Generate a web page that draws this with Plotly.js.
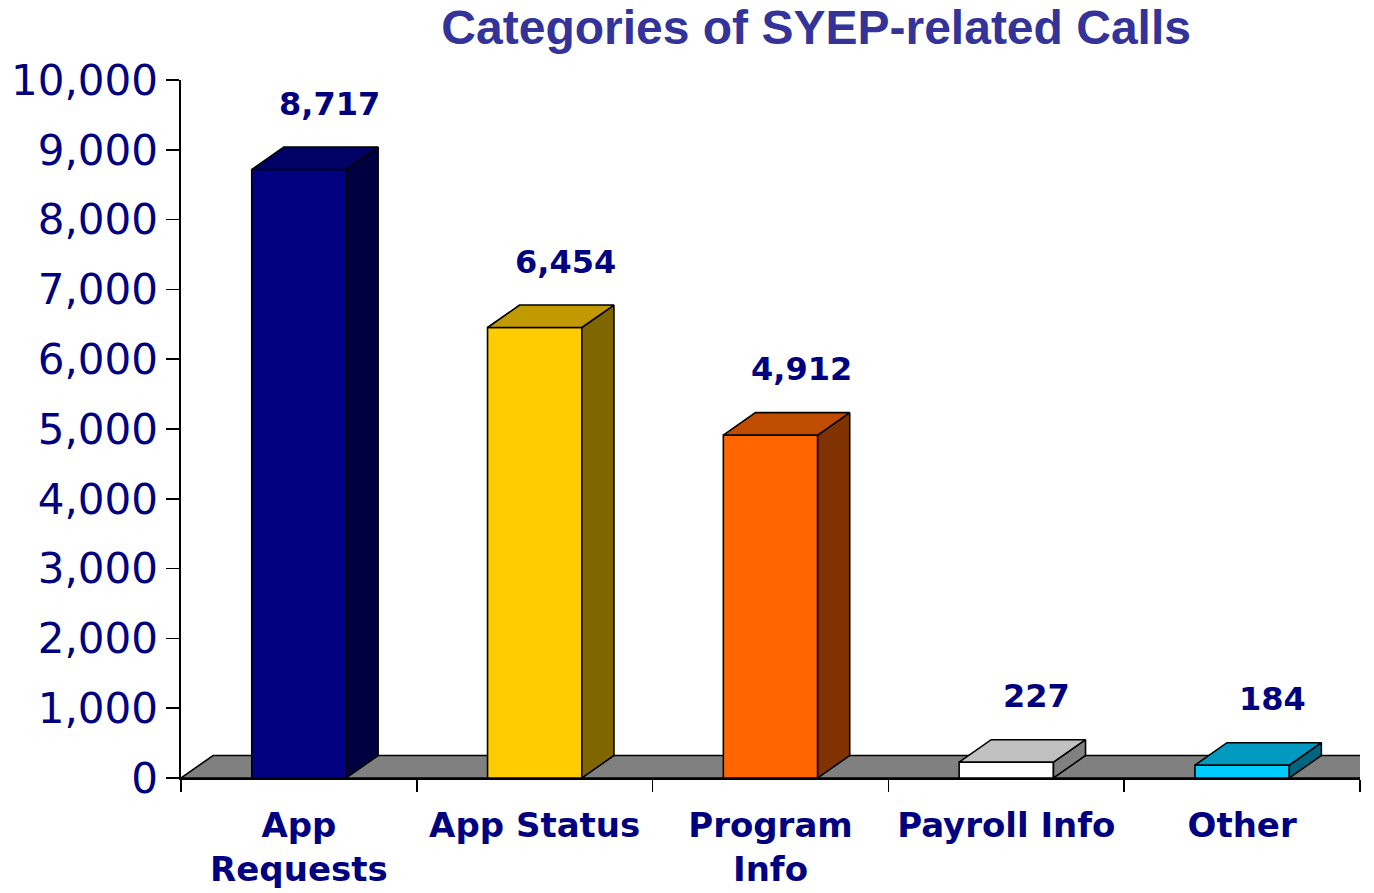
<!DOCTYPE html>
<html>
<head>
<meta charset="utf-8">
<script src="https://cdn.plot.ly/plotly-3.0.1.min.js"></script>
<style>
  html, body { margin: 0; padding: 0; background: #ffffff; }
  #chart { width: 1374px; height: 893px; }
</style>
</head>
<body>
<div id="chart"></div>
<script>
// ---- data ----
const categories = ['App<br>Requests', 'App Status', 'Program<br>Info', 'Payroll Info', 'Other'];
const values = [8717, 6454, 4912, 227, 184];
const yTickValues = [0, 1000, 2000, 3000, 4000, 5000, 6000, 7000, 8000, 9000, 10000];

// ---- styles ----
const frontColors = ['#000080', '#FFCC00', '#FF6600', '#FFFFFF', '#00CCFF'];
const topColors   = ['#000066', '#C09A00', '#BF4C00', '#C0C0C0', '#0099BF'];
const sideColors  = ['#000040', '#806600', '#803300', '#808080', '#006680'];
const textColor = '#000080';
const halfW = 0.2;      // half of bar width, category units
const depthX = 0.136;   // 3D depth offset along x (category units)
const depthY = 322;     // 3D depth offset along y (value units)

const idx = categories.map((_, i) => i);
const n = categories.length;
const traces = [];

// front faces as real bars
traces.push({
  type: 'bar',
  x: idx,
  y: values,
  width: 2 * halfW,
  marker: { color: frontColors, line: { color: '#000000', width: 1.6 } },
  hoverinfo: 'skip',
  showlegend: false
});

// side and top faces computed from the values
values.forEach((v, i) => {
  const xl = i - halfW, xr = i + halfW;
  traces.push({
    type: 'scatter', mode: 'lines', fill: 'toself',
    x: [xr, xr + depthX, xr + depthX, xr, xr],
    y: [0, depthY, v + depthY, v, 0],
    fillcolor: sideColors[i],
    line: { color: '#000000', width: 1.6 },
    hoverinfo: 'skip', showlegend: false
  });
  traces.push({
    type: 'scatter', mode: 'lines', fill: 'toself',
    x: [xl, xr, xr + depthX, xl + depthX, xl],
    y: [v, v, v + depthY, v + depthY, v],
    fillcolor: topColors[i],
    line: { color: '#000000', width: 1.6 },
    hoverinfo: 'skip', showlegend: false
  });
});

// tick-mark carrier on overlay axis (category boundaries)
const boundaries = [];
for (let k = 0; k <= n; k++) boundaries.push(k - 0.5);
traces.push({
  type: 'scatter', mode: 'markers', x: [boundaries[0]], y: [0],
  xaxis: 'x2', marker: { opacity: 0 }, hoverinfo: 'skip', showlegend: false
});

const annotations = values.map((v, i) => ({
  x: i + 0.13, y: v, xref: 'x', yref: 'y',
  text: v.toLocaleString('en-US'),
  showarrow: false, yshift: 66,
  xanchor: 'center', yanchor: 'middle',
  font: { family: 'DejaVu Sans, Arial, sans-serif', size: 32, color: textColor, weight: 'bold' }
}));

const floorPath = 'M ' + (-0.5) + ',0 L ' + (n - 0.5) + ',0 L ' + (n - 0.5 + depthX) + ',' + depthY +
  ' L ' + (-0.5 + depthX) + ',' + depthY + ' Z';

const layout = {
  width: 1374, height: 893,
  margin: { l: 181, r: 14, t: 80, b: 115 },
  paper_bgcolor: '#ffffff', plot_bgcolor: '#ffffff',
  showlegend: false,
  hovermode: false,
  title: {
    text: 'Categories of SYEP-related Calls',
    x: 0.594, xref: 'container', xanchor: 'center',
    y: 0.969, yref: 'container', yanchor: 'middle',
    font: { family: 'Liberation Sans, Arial, sans-serif', size: 48, color: '#333399', weight: 'bold' }
  },
  xaxis: {
    range: [-0.5, n - 0.5],
    tickvals: idx, ticktext: categories,
    ticks: '', showline: false, showgrid: false, zeroline: false,
    tickfont: { family: 'DejaVu Sans, Arial, sans-serif', size: 34, color: textColor, weight: 'bold' },
    ticklabelstandoff: 24,
    fixedrange: true
  },
  xaxis2: {
    overlaying: 'x', side: 'bottom', anchor: 'y',
    range: [-0.5, n - 0.5],
    tickvals: boundaries, showticklabels: false,
    ticks: 'outside', ticklen: 12, tickwidth: 1.6, tickcolor: '#000000',
    showline: true, linecolor: '#000000', linewidth: 1.6,
    showgrid: false, zeroline: false, fixedrange: true
  },
  yaxis: {
    range: [0, 10000],
    tickvals: yTickValues, tickformat: ',d',
    ticks: 'outside', ticklen: 13, tickwidth: 1.6, tickcolor: '#000000',
    showline: true, linecolor: '#000000', linewidth: 1.6,
    showgrid: false, zeroline: false,
    tickfont: { family: 'DejaVu Sans, Arial, sans-serif', size: 42, color: textColor },
    fixedrange: true
  },
  shapes: [{
    type: 'path', xref: 'x', yref: 'y', layer: 'below',
    path: floorPath,
    fillcolor: '#808080', line: { color: '#000000', width: 1.6 }
  }],
  annotations: annotations
};

Plotly.newPlot('chart', traces, layout, { displayModeBar: false, staticPlot: true });
</script>
</body>
</html>
